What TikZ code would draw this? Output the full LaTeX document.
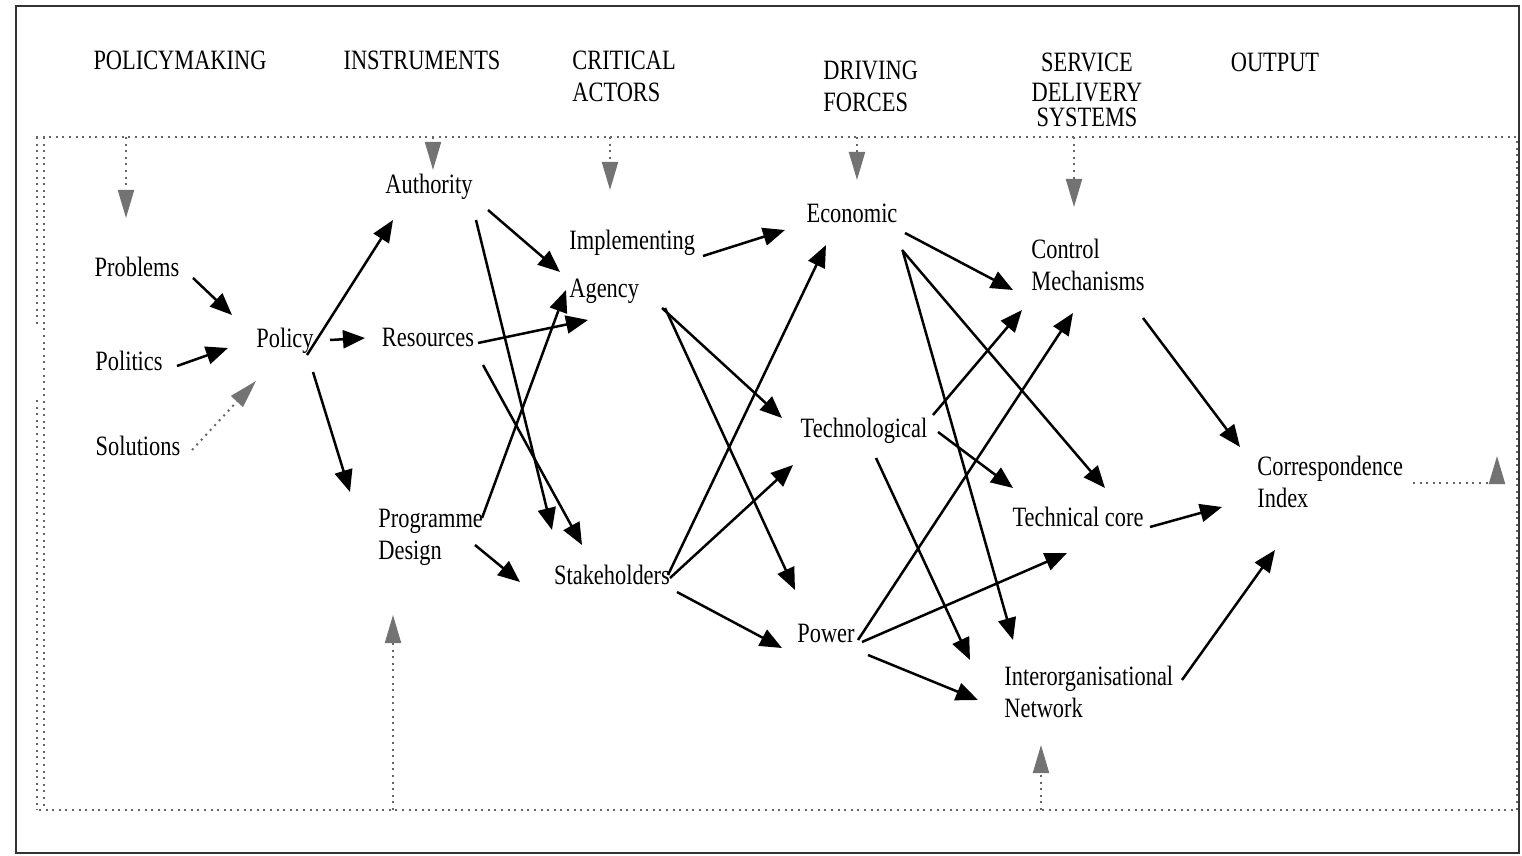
\documentclass[tikz,border=0pt]{standalone}
\usepackage{fontspec}
\setmainfont{Liberation Serif}[FakeStretch=0.8]
\usetikzlibrary{arrows.meta,calc}

\begin{document}
\begin{tikzpicture}[x=0.5pt,y=-0.5pt,
  lbl/.style={inner sep=0pt, font=\fontsize{14}{16}\selectfont, text=black},
  lblL/.style={lbl, align=left, anchor=west},
  arr/.style={line width=1.25pt, draw=black, -{Triangle[length=11pt,width=9pt]}},
  dotline/.style={line width=1pt, draw=black!60, dash pattern=on 1pt off 2.3pt},
  dotarr/.style={dotline, -{Triangle[length=14pt,width=8pt,color=black!55]}},
]
\useasboundingbox (0,0) rectangle (1522,856);

% outer border
\draw[line width=1.3pt, black!80] (16,6) rectangle (1519,853);

% dotted system boundary
\draw[dotline] (36,137) -- (1517,137) -- (1517,810) -- (36,810);
\draw[dotline] (44,137) -- (44,810);
\draw[dotline] (37,137) -- (37,325);
\draw[dotline] (37,400) -- (37,810);

% column headings
\node[lbl] (hpm) at (180,60) {POLICYMAKING};
\node[lbl] (hins) at (422,60) {INSTRUMENTS};
\node[lblL] (hact) at (572,76) {CRITICAL\\ACTORS};
\node[lblL] (hdrv) at (823,86) {DRIVING\\FORCES};
\node[lbl, align=center, font=\fontsize{14}{15}\selectfont] (hsds) at (1087,90) {SERVICE\\DELIVERY\\[-2.5pt]SYSTEMS};
\node[lbl] (hout) at (1275,62) {OUTPUT};

% elements
\node[lbl] (prob) at (137,267) {Problems};
\node[lbl] (pol) at (129,361) {Politics};
\node[lbl] (sol) at (138,446) {Solutions};
\node[lbl] (policy) at (285,341) {Policy};
\node[lbl] (auth) at (429,187) {Authority};
\node[lbl] (res) at (428,337) {Resources};
\node[lblL] (prog) at (378,537) {Programme\\Design};
\node[lblL] (impl) at (569,267) {Implementing\\[8pt]Agency};
\node[lbl] (stake) at (612,575) {Stakeholders};
\node[lbl] (econ) at (852,213) {Economic};
\node[lbl] (tech) at (864,431) {Technological};
\node[lbl] (power) at (826,633) {Power};
\node[lblL] (ctrl) at (1031,265) {Control\\Mechanisms};
\node[lbl] (core) at (1078,517) {Technical core};
\node[lblL] (inter) at (1004,692) {Interorganisational\\Network};
\node[lblL] (corr) at (1257,482) {Correspondence\\Index};

% points on the boundary
\coordinate (t1) at (126,137);
\coordinate (t2) at (433,137);
\coordinate (t3) at (610,137);
\coordinate (t4) at (857,137);
\coordinate (t5) at (1074,137);
\coordinate (b1) at (393,810);
\coordinate (b2) at (1041,810);
\coordinate (fb) at (1497,483);
\coordinate (fbtip) at (1497,456);

% environment inputs from the boundary
\draw[dotarr] (t1) -- ($(prob)+(-11,-49)$);
\draw[dotarr] (t2) -- ($(auth)+(4,-17)$);
\draw[dotarr] (t3) -- ($(impl.west)+(41,-77)$);
\draw[dotarr] (t4) -- ($(econ)+(5,-33)$);
\draw[dotarr] (t5) -- ($(ctrl.west)+(43,-58)$);
\draw[dotarr] (b1) -- ($(prog.west)+(15,78)$);
\draw[dotarr] (b2) -- ($(inter.west)+(37,53)$);
\draw[dotline] ($(corr.west)+(156,1)$) -- (fb);
\draw[dotarr] (fb) -- (fbtip);

% policymaking
\draw[arr] ($(prob)+(56,11)$) -- ($(policy)+(-53,-26)$);
\draw[arr] ($(pol)+(48,5)$) -- ($(policy)+(-57,7)$);
\draw[dotarr] ($(sol)+(54,4)$) -- ($(policy)+(-29,40)$);

% instruments
\draw[arr] ($(policy)+(22,14)$) -- ($(auth)+(-36,33)$);
\draw[arr] ($(policy)+(45,-1)$) -- ($(res)+(-63,1)$);
\draw[arr] ($(policy)+(28,31)$) -- ($(prog.west)+(-28,-45)$);

% critical actors
\draw[arr] ($(auth)+(59,23)$) -- ($(impl.west)+(-9,5)$);
\draw[arr] ($(auth)+(47,33)$) -- ($(stake)+(-60,-45)$);
\draw[arr] ($(res)+(50,6)$) -- ($(impl.west)+(19,53)$);
\draw[arr] ($(res)+(55,28)$) -- ($(stake)+(-30,-30)$);
\draw[arr] ($(prog.west)+(104,-19)$) -- ($(impl.west)+(-3,23)$);
\draw[arr] ($(prog.west)+(97,8)$) -- ($(stake)+(-92,7)$);

% driving forces
\draw[arr] ($(impl.west)+(134,-11)$) -- ($(econ)+(-67,17)$);
\draw[arr] ($(impl.west)+(93,41)$) -- ($(tech)+(-82,-13)$);
\draw[arr] ($(impl.west)+(96,41)$) -- ($(power)+(-31,-43)$);
\draw[arr] ($(stake)+(56,0)$) -- ($(econ)+(-26,32)$);
\draw[arr] ($(stake)+(58,3)$) -- ($(tech)+(-71,34)$);
\draw[arr] ($(stake)+(65,17)$) -- ($(power)+(-44,15)$);

% service delivery systems
\draw[arr] ($(econ)+(53,20)$) -- ($(ctrl.west)+(-18,25)$);
\draw[arr] ($(econ)+(50,37)$) -- ($(core)+(27,-29)$);
\draw[arr] ($(econ)+(51,39)$) -- ($(inter.west)+(9,-52)$);
\draw[arr] ($(tech)+(69,-16)$) -- ($(ctrl.west)+(-9,45)$);
\draw[arr] ($(tech)+(74,1)$) -- ($(core)+(-65,-29)$);
\draw[arr] ($(tech)+(12,27)$) -- ($(inter.west)+(-34,-32)$);
\draw[arr] ($(power)+(32,7)$) -- ($(ctrl.west)+(42,48)$);
\draw[arr] ($(power)+(36,9)$) -- ($(core)+(-11,36)$);
\draw[arr] ($(power)+(42,22)$) -- ($(inter.west)+(-26,8)$);

% output
\draw[arr] ($(ctrl.west)+(112,53)$) -- ($(corr.west)+(-17,-35)$);
\draw[arr] ($(core)+(72,10)$) -- ($(corr.west)+(-35,25)$);
\draw[arr] ($(inter.west)+(178,-12)$) -- ($(corr.west)+(18,68)$);
\end{tikzpicture}
\end{document}
